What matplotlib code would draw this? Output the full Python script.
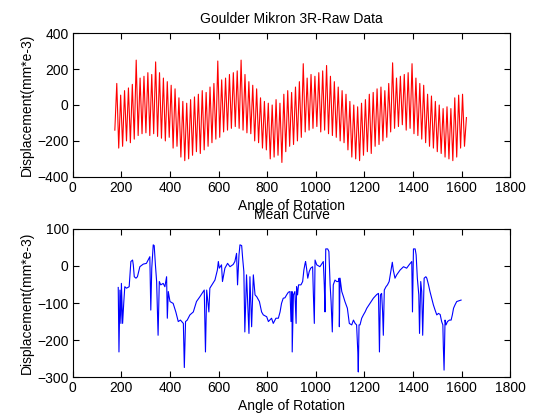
import numpy as np
import matplotlib
matplotlib.use("Agg")
import matplotlib.pyplot as plt

plt.rcParams["font.family"] = ["Liberation Sans", "DejaVu Sans"]
plt.rcParams["font.size"] = 10

# raw data: one peak and one trough per cycle
raw_start_angle = 173
raw_end_angle = 1620
raw_first = -140
raw_last = -70
raw_peaks = [
    120, 55, 80, 95, 115, 250, 150, 160, 180, 170,
    240, 180, 150, 130, 110, 90, 40, 20, 10, 30,
    45, 60, 80, 70, 100, 120, 245, 140, 150, 170,
    180, 190, 250, 170, 130, 110, 90, 40, 20, 10,
    0, 30, 10, 60, 80, 70, 100, 130, 230, 150,
    170, 160, 180, 190, 220, 160, 130, 100, 80, 60,
    20, 0, -10, 10, 30, 60, 70, 90, 100, 80,
    120, 235, 150, 160, 170, 180, 230, 150, 120, 110,
    60, 50, 20, 0, -20, -10, -20, 40, 55, 60,
]
raw_troughs = [
    -240, -230, -200, -210, -190, -170, -160, -155, -170, -160,
    -175, -185, -200, -180, -240, -230, -290, -310, -300, -280,
    -260, -270, -250, -230, -210, -190, -180, -150, -140, -130,
    -120, -130, -140, -155, -160, -200, -210, -240, -250, -300,
    -290, -280, -320, -260, -230, -220, -200, -180, -150, -140,
    -130, -120, -150, -140, -160, -170, -180, -200, -210, -250,
    -290, -300, -310, -280, -260, -270, -230, -220, -200, -180,
    -150, -130, -120, -110, -140, -130, -160, -170, -190, -210,
    -230, -240, -260, -270, -290, -300, -310, -290, -240, -230,
]

# mean curve
mean_angle = [
    187, 190, 194, 198, 200, 205, 210, 214, 221, 232, 239, 246, 249, 253, 260,
    266, 276, 290, 303, 314, 317, 321, 325, 331, 335, 340, 345, 351, 356, 362,
    372, 379, 386, 389, 393, 400, 413, 424, 434, 443, 455, 459, 464, 471, 482,
    496, 509, 523, 537, 541, 546, 551, 560, 564, 585, 595, 599, 603, 612, 616,
    626, 637, 647, 660, 667, 674, 678, 684, 688, 695, 699, 704, 708, 715, 725,
    729, 736, 743, 750, 757, 768, 777, 784, 798, 805, 818, 825, 836, 846, 853,
    859, 866, 873, 880, 887, 894, 898, 902, 903, 908, 914, 919, 921, 925, 929,
    939, 946, 951, 956, 958, 962, 967, 973, 979, 987, 990, 994, 997, 1004, 1017,
    1031, 1035, 1038, 1041, 1049, 1054, 1059, 1063, 1068, 1072, 1079, 1086, 1093, 1096, 1097,
    1100, 1107, 1114, 1120, 1130, 1138, 1148, 1155, 1162, 1168, 1173, 1175, 1178, 1182, 1189,
    1196, 1203, 1210, 1223, 1237, 1251, 1258, 1262, 1266, 1271, 1275, 1278, 1282, 1289, 1295,
    1302, 1310, 1315, 1319, 1326, 1333, 1347, 1361, 1374, 1384, 1395, 1398, 1402, 1409, 1413,
    1418, 1424, 1427, 1432, 1436, 1440, 1446, 1453, 1457, 1464, 1470, 1477, 1484, 1491, 1498,
    1505, 1512, 1518, 1523, 1525, 1528, 1532, 1536, 1542, 1550, 1557, 1562, 1567, 1573, 1580,
    1598,
]
mean_disp = [
    -58, -232, -65, -155, -47, -155, -96, -56, -60, -56, 12, 16, 3, -29, -33,
    -29, -2, 5, 7, 21, 25, -119, -6, 57, 55, 3, -42, -187, -42, -51,
    -47, -56, -29, -141, -69, -96, -101, -124, -150, -146, -155, -274, -150, -146, -132,
    -124, -96, -83, -69, -65, -232, -65, -124, -60, -38, -11, 12, -6, 3, -42,
    -6, 7, -2, 4, 12, 34, -51, 30, 57, 55, 21, -15, -178, -24, -182,
    -29, -164, -24, -78, -83, -96, -124, -132, -137, -150, -141, -155, -141, -141, -124,
    -101, -87, -86, -78, -71, -69, -150, -69, -232, -78, -69, -155, -56, -78, -51,
    -51, -42, -11, 7, 12, -6, -33, -15, -6, -2, -74, -155, 16, 3, -2,
    12, -51, -124, 46, 46, 39, -51, -96, -178, -51, -38, -42, -42, -33, -164,
    -33, -69, -83, -96, -114, -155, -159, -146, -155, -159, -232, -286, -159, -159, -141,
    -132, -124, -114, -101, -87, -77, -74, -232, -78, -74, -124, -187, -65, -56, -51,
    -42, -11, 10, -11, -33, -24, -11, -2, -6, 3, 12, -124, 46, 46, 30,
    -33, -78, -182, -42, -69, -187, -33, -29, -33, -51, -69, -87, -105, -119, -132,
    -128, -131, -150, -159, -218, -281, -146, -159, -150, -146, -146, -132, -114, -105, -96,
    -92,
]

raw_disp = [raw_first]
for p, t in zip(raw_peaks, raw_troughs):
    raw_disp += [p, t]
raw_disp.append(raw_last)
raw_angle = np.linspace(raw_start_angle, raw_end_angle, len(raw_disp))

fig = plt.figure(figsize=(5.6, 4.2), dpi=100)
ax1 = fig.add_axes([0.130, 0.579, 0.781, 0.342])
ax2 = fig.add_axes([0.130, 0.102, 0.781, 0.353])

ax1.plot(raw_angle, raw_disp, color="red", lw=0.8)
ax1.set_xlim(0, 1800)
ax1.set_ylim(-400, 400)
ax1.set_yticks([-400, -200, 0, 200, 400])
ax1.set_title("Goulder Mikron 3R-Raw Data", fontsize=10, pad=7)

ax2.plot(mean_angle, mean_disp, color="blue", lw=0.8)
ax2.set_xlim(0, 1800)
ax2.set_ylim(-300, 100)
ax2.set_yticks([-300, -200, -100, 0, 100])
ax2.set_title("Mean Curve", fontsize=10, pad=7)

for ax in (ax1, ax2):
    ax.set_xticks(np.arange(0, 1801, 200))
    ax.set_xlabel("Angle of Rotation", labelpad=3)
    ax.set_ylabel("Displacement(mm*e-3)", labelpad=2)
    ax.tick_params(direction="in", top=True, right=True, length=4, width=0.8,
                   labelsize=10, pad=3)
    for s in ax.spines.values():
        s.set_linewidth(0.8)

fig.savefig("out.png", dpi=100, facecolor="white")
